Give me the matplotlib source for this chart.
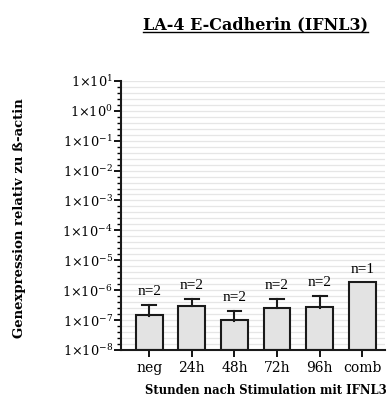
import numpy as np
import matplotlib
matplotlib.use('Agg')
import matplotlib.pyplot as plt
from matplotlib.lines import Line2D
from matplotlib.ticker import FixedLocator, NullFormatter

plt.rcParams['font.family'] = ['DejaVu Serif']
plt.rcParams['mathtext.fontset'] = 'dejavuserif'

# data
groups = ['neg', '24h', '48h', '72h', '96h', 'comb']
means = [1.4e-7, 2.9e-7, 9.3e-8, 2.5e-7, 2.6e-7, 1.8e-6]
err_top = [3.1e-7, 5.0e-7, 1.95e-7, 5.0e-7, 6.3e-7, 1.8e-6]
n_labels = ['n=2', 'n=2', 'n=2', 'n=2', 'n=2', 'n=1']
decades = list(range(-8, 2))

fig = plt.figure(figsize=(3.87, 4.09), dpi=100)
ax = fig.add_axes([0.3127, 0.1443, 0.683, 0.658])

x = np.arange(len(groups))
ax.set_yscale('log')

# grid lines: 5 steps per decade
grid_pos = [10.0 ** (d + j / 5) for d in decades[:-1] for j in range(5)] + [10.0 ** decades[-1]]
for g in grid_pos:
    ax.axhline(g, color='#e6e6e6', lw=0.9, zorder=0)

ax.bar(x, means, width=0.63, bottom=1e-8, color='#e3e3e3', edgecolor='#1a1a1a',
       linewidth=1.5, zorder=2)
for xi, m, e in zip(x, means, err_top):
    if e > m:
        ax.plot([xi, xi], [m, e], color='#1a1a1a', lw=1.5, zorder=3)
        ax.plot([xi - 0.16, xi + 0.16], [e, e], color='#1a1a1a', lw=1.5, zorder=3)

for xi, e, lab in zip(x, err_top, n_labels):
    ax.annotate(lab, (xi, e), xytext=(0, 5), textcoords='offset points',
                ha='center', va='bottom', fontsize=11, family='Liberation Serif')

ax.set_ylim(1e-8, 10)
ax.set_xlim(-0.66, 5.54)

ax.yaxis.set_major_locator(FixedLocator([10.0 ** d for d in decades]))
ax.yaxis.set_minor_locator(FixedLocator([10.0 ** (d + j / 5) for d in decades[:-1] for j in range(1, 5)]))
ax.yaxis.set_minor_formatter(NullFormatter())
ax.set_yticklabels([r'1$\times$10$^{%d}$' % d for d in decades])

ax.set_xticks(x)
ax.set_xticklabels(groups)

for s in ['top', 'right']:
    ax.spines[s].set_visible(False)
for s in ['left', 'bottom']:
    ax.spines[s].set_linewidth(1.5)
    ax.spines[s].set_color('#1a1a1a')

ax.tick_params(axis='y', which='major', length=5, width=1.3, labelsize=9.3, pad=1)
ax.tick_params(axis='y', which='minor', length=3, width=1.0)
ax.tick_params(axis='x', which='major', length=5, width=1.3, labelsize=10, pad=3)

ax.set_ylabel('Genexpression relativ zu ß-actin', fontsize=9.5, fontweight='bold')
ax.yaxis.set_label_coords(-0.36, 0.49)
ax.set_xlabel('Stunden nach Stimulation mit IFNL3', fontsize=8.4, fontweight='bold',
              va='center')
ax.xaxis.set_label_coords(0.549, -0.152)

title = fig.text(0.66, 0.94, 'LA-4 E-Cadherin (IFNL3)', ha='center', va='center',
                 fontsize=11.5, fontweight='bold')
fig.canvas.draw()
bb = title.get_window_extent().transformed(fig.transFigure.inverted())
fig.add_artist(Line2D([bb.x0, bb.x1], [bb.y0 + 0.003, bb.y0 + 0.003], color='black', lw=1.0,
                      transform=fig.transFigure))

fig.savefig('out.png', dpi=100)
